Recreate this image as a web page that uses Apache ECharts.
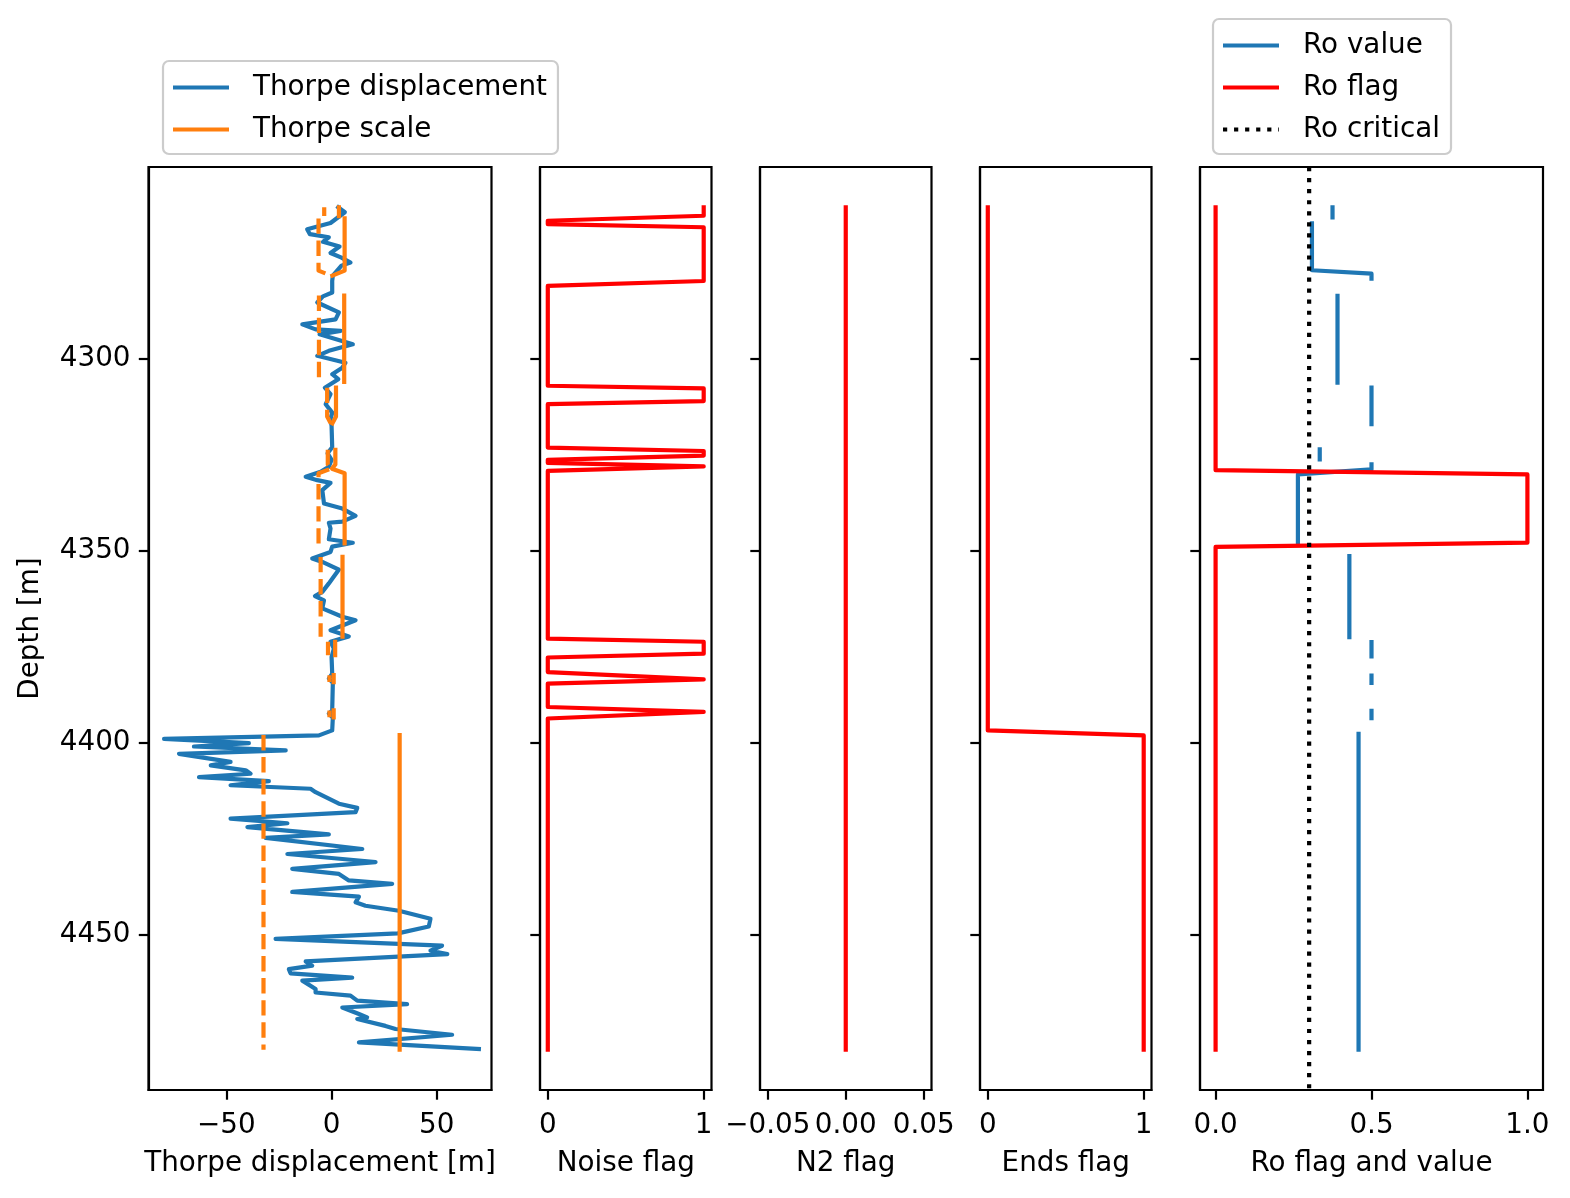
<!DOCTYPE html>
<html><head><meta charset="utf-8">
<script src="https://cdn.jsdelivr.net/npm/echarts@6/dist/echarts.min.js"></script>
<style>html,body{margin:0;padding:0;background:#fff}#chart{width:1570px;height:1198px}</style>
</head><body><div id="chart"></div>
<script>
// ---------------- data ----------------
const depthTicks = [4300, 4350, 4400, 4450];
const tdTicks = [-50, 0, 50];
const flagTicks = [0, 1];
const n2Ticks = [-0.05, 0, 0.05];
const roTicks = [0, 0.5, 1];

// Thorpe displacement
const tdDepth = [4260.5,4261.8,4264.6,4266.2,4267.5,4268.3,4269.5,4270.7,4272.4,4273.6,4274.9,4275.7,4278.3,4279.7,4282.7,4283.7,4285.3,4287.9,4289.7,4291.0,4292.3,4292.7,4293.6,4296.2,4297.9,4299.2,4301.0,4302.3,4304.0,4305.3,4307.5,4309.2,4311.8,4314.0,4315.7,4317.5,4323.0,4324.6,4326.3,4328.1,4329.4,4330.7,4331.6,4332.3,4334.2,4337.7,4339.0,4340.9,4342.4,4342.7,4344.2,4347.0,4347.9,4348.9,4350.3,4352.0,4352.9,4354.9,4358.5,4360.7,4361.8,4362.9,4365.0,4367.2,4368.1,4370.7,4372.3,4373.7,4375.5,4377.7,4382.0,4383.3,4384.4,4391.6,4392.4,4393.5,4396.8,4398.1,4399.0,4400.1,4401.0,4402.0,4402.9,4405.0,4405.9,4407.2,4408.1,4409.0,4410.0,4411.1,4412.0,4412.9,4415.9,4417.0,4418.1,4419.8,4421.0,4422.0,4423.9,4424.8,4427.7,4429.0,4431.1,4432.9,4434.2,4435.9,4436.8,4438.9,4440.1,4441.6,4442.5,4443.8,4445.9,4447.9,4449.7,4451.1,4452.9,4454.2,4455.1,4457.0,4458.1,4459.0,4460.1,4461.2,4462.0,4464.2,4465.1,4465.9,4467.2,4468.1,4469.0,4470.7,4471.6,4472.0,4473.8,4474.6,4476.1,4478.1,4479.8];
const tdValue = [3.2,6.3,-0.5,-11.6,-10.3,-1.3,-4.1,3.8,-0.5,4.7,9.0,4.7,0.6,0.3,0.3,-4.1,-6.8,3.5,1.9,-13.9,-7.6,4.3,-5.7,10.1,-1.3,-6.8,6.6,5.1,0.3,3.2,-3.2,-0.5,-2.8,0.3,-0.5,0.0,0.3,-1.9,0.0,-1.3,-5.2,-12.3,-6.8,-0.5,-4.4,-3.6,5.1,11.4,5.1,-1.3,-0.5,-1.3,10.1,0.3,-0.5,-9.2,-4.4,3.5,-1.3,-4.4,-7.9,-3.6,-4.4,5.1,11.4,-0.5,8.2,-0.5,1.1,0.0,0.3,-1.3,0.6,0.3,-1.3,0.6,0.3,-6.0,-79.6,-39.3,-65.4,-21.8,-72.5,-48.0,-57.4,-40.8,-38.5,-63.0,-29.8,-48.0,-10.0,-7.6,3.5,12.2,11.4,-48.0,-21.0,-40.0,-1.3,-31.3,14.6,-21.0,20.9,-18.7,3.5,8.2,28.8,-18.7,13.0,11.4,16.1,32.0,47.0,46.2,31.5,-26.6,52.5,47.0,55.0,-12.3,-9.2,-20.3,-19.5,9.8,-13.9,-7.6,-7.6,9.0,12.2,35.9,5.1,13.0,16.9,12.2,25.6,30.4,57.3,13.0,70.0];

// Thorpe scale (null = gap)
const tsDepth = [4260.5,4262.8,null,4263.4,4277.0,4278.3,null,4283.5,4306.0,null,4307.5,4315.0,4316.8,null,4323.7,4327.5,4328.6,4329.8,4348.1,null,4351.6,4372.4,null,4373.7,4377.2,null,4382.4,4384.2,null,4391.6,4393.4,null,4398.0,4480.0];
const tsValue = [3.5,3.5,null,6.2,6.2,0.4,null,6.0,6.0,null,2.1,2.1,0.4,null,1.8,1.8,0.2,6.2,6.2,null,5.2,5.2,null,1.7,1.7,null,1.0,1.0,null,1.0,1.0,null,32.35,32.35];

// Noise flag
const noiseDepth = [4260.5,4262.7,4264.0,4264.9,4265.7,4279.7,4281.0,4307.0,4307.7,4311.0,4311.8,4323.1,4324.0,4325.2,4326.3,4327.1,4328.0,4329.2,4372.9,4373.7,4376.8,4377.8,4381.6,4383.5,4384.6,4390.7,4392.0,4393.7,4480.0];
const noiseFlag = [1,1,0,0,1,1,0,0,1,1,0,0,1,1,0,0,1,0,0,1,1,0,0,1,0,0,1,0,0];

// N2 flag
const n2Depth = [4260.5, 4480.0];
const n2Flag = [0, 0];

// Ends flag
const endsDepth = [4260.5, 4396.8, 4398.1, 4480.0];
const endsFlag = [0, 0, 1, 1];

// Ro flag
const roFlagDepth = [4260.5, 4329.0, 4330.1, 4347.9, 4349.0, 4480.0];
const roFlag = [0, 0, 1, 1, 0, 0];

// Ro value (null = gap)
const roValDepth = [4260.5,4263.1,null,4264.7,4276.9,4277.8,4279.1,null,4283.6,4306.2,null,4307.5,4317.0,null,4323.6,4326.2,null,4327.5,4328.8,4330.1,4347.9,null,4351.4,4372.5,null,4373.8,4377.5,null,4382.5,4384.4,null,4391.7,4393.6,null,4397.7,4480.0];
const roValue = [0.375,0.375,null,0.309,0.309,0.5,0.5,null,0.391,0.391,null,0.5,0.5,null,0.334,0.334,null,0.5,0.5,0.264,0.264,null,0.429,0.429,null,0.5,0.5,null,0.5,0.5,null,0.5,0.5,null,0.4585,0.4585];

const roCritical = 0.3;

// ---------------- chart ----------------
const FONT = 'DejaVu Sans';
const FS = 27.8;
const LW = 4.2;
const DMIN = 4250, DMAX = 4490.5;
const BLUE = '#1f77b4', ORANGE = '#ff7f0e', RED = '#ff0000';

function pairs(vals, depths, sign) {
  sign = sign || 1;
  return depths.map((d, i) => (d === null || vals[i] === null) ? ['-', '-'] : [sign * vals[i], d]);
}
const minus = s => String(s).replace('-', '\u2212');

const panels = [
  {left: 148.5, width: 343, min: -87, max: 76, ticks: tdTicks, name: 'Thorpe displacement [m]', fmt: v => minus(v)},
  {left: 540, width: 171.5, min: -0.05, max: 1.05, ticks: flagTicks, name: 'Noise flag', fmt: v => minus(v)},
  {left: 760, width: 171.5, min: -0.055, max: 0.055, ticks: n2Ticks, name: 'N2 flag', fmt: v => minus(v.toFixed(2))},
  {left: 980, width: 171.5, min: -0.05, max: 1.05, ticks: flagTicks, name: 'Ends flag', fmt: v => minus(v)},
  {left: 1200, width: 343, min: -0.05, max: 1.05, ticks: roTicks, name: 'Ro flag and value', fmt: v => v.toFixed(1)}
];

const txt = {fontFamily: FONT, fontSize: FS, color: '#000'};

const grid = panels.map(p => ({left: p.left, width: p.width, top: 167, height: 923, show: true, borderColor: '#000', borderWidth: 2.2, backgroundColor: 'transparent', containLabel: false}));

const xAxis = panels.map((p, i) => ({
  type: 'value', gridIndex: i, min: p.min, max: p.max, position: 'bottom',
  axisLine: {show: true, onZero: false, lineStyle: {color: '#000', width: 2.2}},
  axisTick: {show: true, length: 9.7, lineStyle: {color: '#000', width: 2.2}, customValues: p.ticks},
  axisLabel: {show: true, customValues: p.ticks, formatter: p.fmt, margin: 22, ...txt},
  splitLine: {show: false},
  name: p.name, nameLocation: 'middle', nameGap: 60, nameTextStyle: txt
}));

const yAxis = panels.map((p, i) => ({
  type: 'value', gridIndex: i, inverse: true, min: DMIN, max: DMAX, position: 'left',
  axisLine: {show: true, onZero: false, lineStyle: {color: '#000', width: 2.2}},
  axisTick: {show: true, length: 9.7, lineStyle: {color: '#000', width: 2.2}, customValues: depthTicks},
  axisLabel: {show: i === 0, customValues: depthTicks, formatter: v => String(v), margin: 18, ...txt},
  splitLine: {show: false},
  name: i === 0 ? 'Depth [m]' : '', nameLocation: 'middle', nameRotate: 90, nameGap: 104, nameTextStyle: txt
}));

function line(name, idx, data, color, type, cap) {
  return {
    type: 'line', name: name, xAxisIndex: idx, yAxisIndex: idx, data: data,
    symbol: 'none', showSymbol: false, silent: true, animation: false, connectNulls: false,
    lineStyle: {color: color, width: LW, type: type || 'solid', cap: cap || 'square', join: 'round'},
    itemStyle: {color: color}, emphasis: {disabled: true}
  };
}

const series = [
  line('Thorpe displacement', 0, pairs(tdValue, tdDepth), BLUE),
  line('Thorpe scale', 0, pairs(tsValue, tsDepth), ORANGE),
  line('Thorpe scale', 0, pairs(tsValue, tsDepth, -1), ORANGE, [15.4, 6.7], 'butt'),
  line('Noise flag', 1, pairs(noiseFlag, noiseDepth), RED),
  line('N2 flag', 2, pairs(n2Flag, n2Depth), RED),
  line('Ends flag', 3, pairs(endsFlag, endsDepth), RED),
  line('Ro value', 4, pairs(roValue, roValDepth), BLUE),
  line('Ro flag', 4, pairs(roFlag, roFlagDepth), RED),
  line('Ro critical', 4, [[roCritical, DMIN], [roCritical, DMAX]], '#000', [4.2, 6.85], 'butt')
];

const lineIcon = 'path://M0,0H56V4.2H0Z';
const dotIcon = 'path://M0,0h4.2v4.2h-4.2z M11.05,0h4.2v4.2h-4.2z M22.1,0h4.2v4.2h-4.2z M33.15,0h4.2v4.2h-4.2z M44.2,0h4.2v4.2h-4.2z M55.25,0h0.75v4.2h-0.75z';

const legendBase = {
  orient: 'vertical', selectedMode: false, itemWidth: 56, itemHeight: 4.2, itemGap: 11,
  padding: [11, 11, 9, 10], borderColor: '#cccccc', borderWidth: 2.2, borderRadius: 6,
  backgroundColor: 'rgba(255,255,255,0.8)', symbolKeepAspect: false,
  textStyle: {fontFamily: FONT, fontSize: FS, color: '#000', lineHeight: 31, padding: [0, 0, 0, 19]}
};

const option = {
  backgroundColor: '#fff',
  animation: false,
  grid, xAxis, yAxis, series,
  legend: [
    Object.assign({}, legendBase, {left: 163, top: 61, data: [
      {name: 'Thorpe displacement', icon: lineIcon},
      {name: 'Thorpe scale', icon: lineIcon}
    ]}),
    Object.assign({}, legendBase, {left: 1213, top: 19, data: [
      {name: 'Ro value', icon: lineIcon},
      {name: 'Ro flag', icon: lineIcon},
      {name: 'Ro critical', icon: dotIcon}
    ]})
  ]
};

const chart = echarts.init(document.getElementById('chart'), null, {renderer: 'canvas'});
chart.setOption(option);
</script></body></html>
